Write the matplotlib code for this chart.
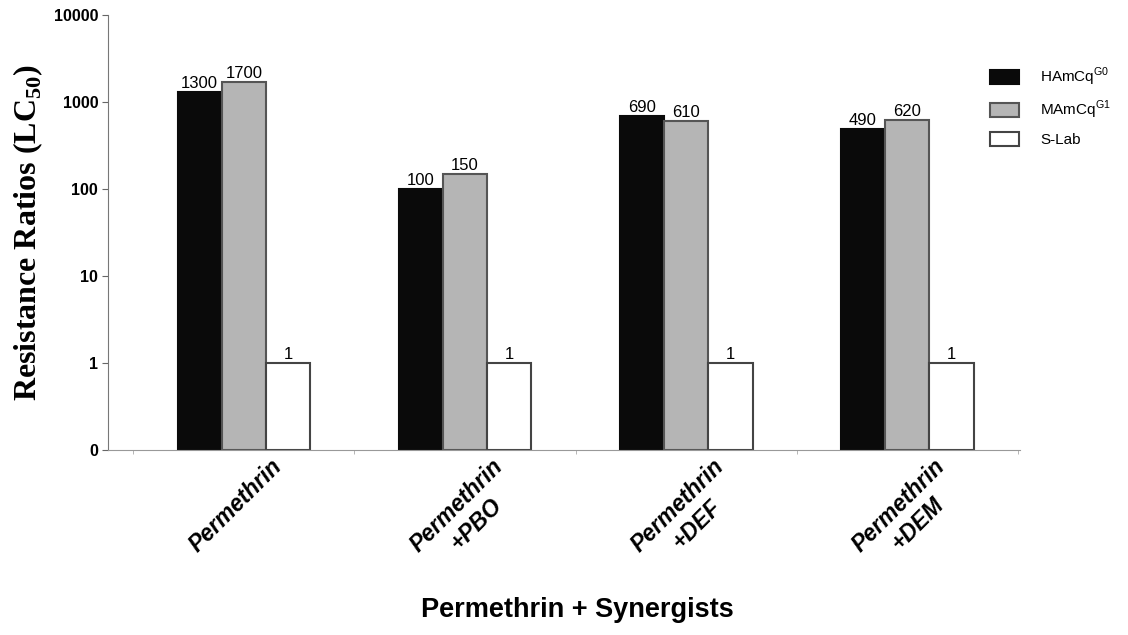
import numpy as np
import matplotlib.pyplot as plt

plt.rcParams["mathtext.fontset"] = "custom"
plt.rcParams["mathtext.rm"] = "Liberation Sans"
plt.rcParams["mathtext.bf"] = "Liberation Serif:bold"

treatments = ["Permethrin", "Permethrin\n+PBO", "Permethrin\n+DEF", "Permethrin\n+DEM"]
strains = ["HAmCq$^{\\mathrm{G0}}$", "MAmCq$^{\\mathrm{G1}}$", "S-Lab"]
hamcq = [1300, 100, 690, 490]
mamcq = [1700, 150, 610, 620]
slab = [1, 1, 1, 1]

ytick_vals = [0.1, 1, 10, 100, 1000, 10000]
ytick_labels = ["0", "1", "10", "100", "1000", "10000"]

sans = ["Liberation Sans", "DejaVu Sans"]

fig = plt.figure(figsize=(11.28, 6.35), dpi=100)
ax = fig.add_axes([0.0957, 0.291, 0.8086, 0.685])

x = np.arange(len(treatments))
w = 0.2
base = 0.1
series = [(hamcq, "#0a0a0a", "#0a0a0a", -w),
          (mamcq, "#b5b5b5", "#555555", 0),
          (slab, "white", "#444444", w)]
for (vals, fc, ec, off), name in zip(series, strains):
    heights = [v - base for v in vals]
    bars = ax.bar(x + off, heights, w, bottom=base, color=fc, edgecolor=ec,
                  linewidth=1.5, label=name)
    for b, v in zip(bars, vals):
        ax.text(b.get_x() + b.get_width() / 2, v * 1.03, str(v), ha="center",
                va="bottom", fontsize=12, family=sans)

ax.set_yscale("log")
ax.set_ylim(0.1, 10000)
ax.set_xlim(-0.615, 3.51)
ax.set_yticks(ytick_vals)
ax.set_yticklabels(ytick_labels, fontsize=11.5, fontweight="bold", family=sans)
ax.yaxis.set_minor_locator(plt.NullLocator())
ax.tick_params(axis="y", direction="out", length=4, color="#666666", pad=3)

# category names sit a little right of the group centre
ax.set_xticks(x + 0.12)
ax.set_xticklabels(treatments, rotation=45, ha="right", va="top", rotation_mode="anchor",
                   fontsize=16.5, fontweight="bold", style="italic", family=sans,
                   multialignment="center")
ax.tick_params(axis="x", length=0, pad=3)
ax.set_xticks(np.arange(-0.5, 4, 1), minor=True)
ax.tick_params(axis="x", which="minor", length=3, direction="out", color="#aaaaaa")

for s in ["top", "right"]:
    ax.spines[s].set_visible(False)
ax.spines["left"].set_color("#777777")
ax.spines["bottom"].set_color("#999999")

ax.set_ylabel("Resistance Ratios (LC$_{\\mathbf{50}}$)", family="Liberation Serif",
              fontsize=23, fontweight="bold", labelpad=6)
fig.text(0.512, 0.04, "Permethrin + Synergists", ha="center", va="center", fontsize=19.5,
         fontweight="bold", family=sans)

leg = ax.legend(loc="upper left", bbox_to_anchor=(0.952, 0.915), frameon=False,
                prop={"family": sans, "size": 11}, handlelength=1.9,
                handleheight=1.0, labelspacing=0.7, handletextpad=1.4)

fig.savefig("out.png", dpi=100)
